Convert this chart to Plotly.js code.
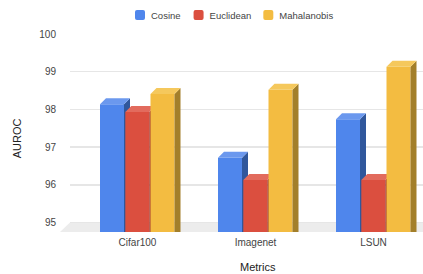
<!DOCTYPE html>
<html><head><meta charset="utf-8">
<script src="https://cdn.plot.ly/plotly-3.0.1.min.js"></script>
<style>html,body{margin:0;padding:0;background:#fff}</style></head>
<body><div id="chart" style="width:423px;height:274px"></div>
<script>
const categories = ['Cifar100', 'Imagenet', 'LSUN'];
const cosine = [98.14, 96.72, 97.74];
const euclidean = [97.93, 96.13, 96.13];
const mahalanobis = [98.41, 98.52, 99.13];
const seriesNames = ['Cosine', 'Euclidean', 'Mahalanobis'];
const seriesValues = [cosine, euclidean, mahalanobis];
const frontColors = ['#4f86ec', '#db4f3f', '#f3bc41'];
const topColors = ['#6b98ee', '#e26b5d', '#f5c85c'];
const sideColors = ['#30579c', '#a6392c', '#a37f2a'];
const yTicks = [95, 96, 97, 98, 99, 100];

const W = 423, H = 274, L = 70, R = 423, T = 33.5, B = 232;
const pxX = 118, pxY = 37.8;
const firstCenter = 137.5;
const yMin = 100 - (B - T) / pxY;
const xRange = [(L - firstCenter) / pxX, (R - firstCenter) / pxX];
const barW = 24 / pxX, offsets = [-37.5 / pxX, -12.2 / pxX, 13 / pxX];
const dx = 6 / pxX, dy = 6 / pxY;
const xs = categories.map((_, i) => i);

const traces = [];
seriesValues.forEach((vals, s) => {
  const suf = s === 0 ? '' : String(s + 1);
  const xa = 'x' + suf, ya = 'y' + suf;
  vals.forEach((v, i) => {
    const xl = i + offsets[s], xr = xl + barW;
    traces.push({type:'scatter', mode:'lines', xaxis:xa, yaxis:ya, showlegend:false, hoverinfo:'skip',
      x:[xr, xr + dx, xr + dx, xr, xr], y:[v, v + dy, yMin, yMin, v], fill:'toself',
      fillcolor:sideColors[s], line:{width:0}});
    traces.push({type:'scatter', mode:'lines', xaxis:xa, yaxis:ya, showlegend:false, hoverinfo:'skip',
      x:[xl, xr, xr + dx, xl + dx, xl], y:[v, v, v + dy, v + dy, v], fill:'toself',
      fillcolor:topColors[s], line:{width:0}});
  });
  traces.push({type:'bar', name:seriesNames[s], xaxis:xa, yaxis:ya, x:xs, y:vals,
    width:barW, offset:offsets[s], marker:{color:frontColors[s], line:{width:0}}});
});

const font = {family:'Liberation Sans, Arial, sans-serif', size:10, color:'#444'};
const xBase = {range:xRange, domain:[0,1], fixedrange:true};
const yBase = {range:[yMin,100], domain:[0,1], fixedrange:true};
const hiddenX = a => Object.assign({}, xBase, {visible:false, overlaying:'x', anchor:a});
const hiddenY = a => Object.assign({}, yBase, {visible:false, overlaying:'y', anchor:a});
const floorH = (95 - yMin) * pxY / (B - T);
const leftPx = -10 / (R - L);

const layout = {
  width:W, height:H, margin:{l:L, r:W - R, t:T, b:H - B, autoexpand:false},
  paper_bgcolor:'#fff', plot_bgcolor:'#fff', font:font, barmode:'overlay',
  xaxis: Object.assign({}, xBase, {tickmode:'array', tickvals:xs, ticktext:categories, showgrid:false, zeroline:false, showline:false,
    ticks:'', tickfont:font, ticklabelstandoff:3}),
  yaxis: Object.assign({}, yBase, {tickmode:'array', tickvals:yTicks, showgrid:true, gridcolor:'#e6e6e6', gridwidth:1.5, zeroline:false,
    ticks:'', tickfont:font, ticklabelstandoff:13, showline:false}),
  xaxis2:hiddenX('y2'), yaxis2:hiddenY('x2'), xaxis3:hiddenX('y3'), yaxis3:hiddenY('x3'),
  shapes:[{type:'path', xref:'paper', yref:'paper', layer:'below', fillcolor:'#ececec', line:{width:0},
    path:`M ${leftPx} 0 L 0 ${floorH} L 1 ${floorH} L 1 0 Z`}],
  legend:{orientation:'h', x:(120 - L) / (R - L), xanchor:'left', y:B / (B - T), yanchor:'top', font:Object.assign({}, font, {size:9.5}), bgcolor:'rgba(0,0,0,0)'},
  annotations:[
    {text:'AUROC', xref:'paper', yref:'paper', x:(17 - L) / (R - L), y:(B - 138) / (B - T), xanchor:'center', yanchor:'middle', textangle:-90, showarrow:false, font:Object.assign({}, font, {size:11, color:'#222'})},
    {text:'Metrics', xref:'paper', yref:'paper', x:(257.5 - L) / (R - L), y:(B - 267.5) / (B - T), xanchor:'center', yanchor:'middle', showarrow:false, font:Object.assign({}, font, {size:11, color:'#222'})}
  ]
};
// The native legend leaves wider gaps than the reference; tighten its entries after drawing.
const itemShift = [0, -16, -33], textShift = -9;
Plotly.newPlot('chart', traces, layout, {displayModeBar:false, staticPlot:true}).then(gd => {
  gd.querySelectorAll('.legend .traces').forEach((g, i) => {
    const m = /translate\(([-\d.]+)[ ,]*([-\d.]*)/.exec(g.getAttribute('transform'));
    g.setAttribute('transform', `translate(${parseFloat(m[1]) + itemShift[i]},${parseFloat(m[2] || 0)})`);
    const t = g.querySelector('.legendtext');
    t.setAttribute('x', parseFloat(t.getAttribute('x')) + textShift);
    g.querySelectorAll('.legendpoints path, .legendbar path').forEach(p => {
      p.setAttribute('d', 'M3,5A2,2 0 0 0 5,3V-3A2,2 0 0 0 3,-5H-3A2,2 0 0 0 -5,-3V3A2,2 0 0 0 -3,5Z');
    });
  });
});
</script></body></html>
